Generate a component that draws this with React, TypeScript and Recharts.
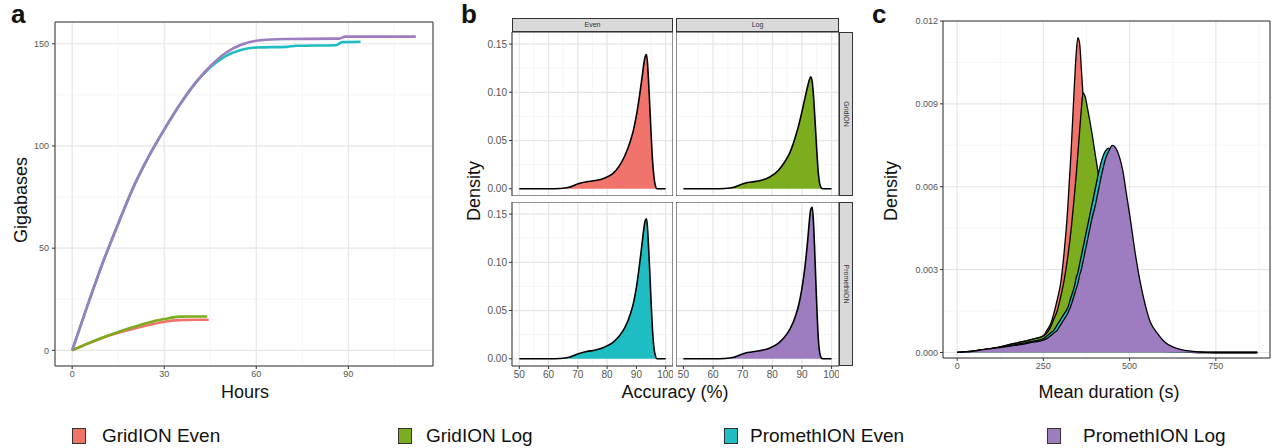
import React from "react"
import { LineChart, Line, AreaChart, Area, XAxis, YAxis, CartesianGrid, ReferenceArea } from "recharts"

const FONT = "'Liberation Sans', Arial, Helvetica, sans-serif"

const seriesNames = ["GridION Even", "GridION Log", "PromethION Even", "PromethION Log"]
const seriesColors = ["#F1746C", "#7BAD1E", "#1EBDC3", "#9D7DC0"]

// panel a: cumulative yield (hours -> gigabases)
const gridEvenHours = [0, 5, 10, 15, 20, 25, 30, 35, 40, 44.5]
const gridEvenGb = [0, 3.2, 6.2, 8.6, 10.6, 12.4, 14, 14.8, 15, 15]
const gridLogHours = [0, 5, 10, 15, 20, 25, 30, 35, 40, 44]
const gridLogGb = [0, 3.3, 6.3, 9, 11.4, 13.6, 15.3, 16.5, 16.6, 16.6]
const promEvenHours = [0, 5, 10, 15, 20, 25, 30, 35, 40, 45, 50, 55, 60, 70, 73, 86, 88, 94]
const promEvenGb = [0, 22, 43, 62, 80, 95, 108, 120, 130.5, 138.5, 144, 147, 148.2, 148.5, 149, 149.3, 150.8, 151]
const promLogHours = [0, 5, 10, 15, 20, 25, 30, 35, 40, 45, 50, 55, 60, 70, 87, 89, 112]
const promLogGb = [0, 22, 43, 62, 80, 95, 108, 120, 130.5, 139, 145.5, 149.5, 151.5, 152.3, 152.5, 153.5, 153.5]

// panel b: accuracy density per facet
const accX = [50, 55, 60, 64, 67, 69, 71, 73, 76, 79, 82, 84, 86, 88, 89, 90, 91, 92, 92.5, 93, 93.5, 94, 94.5, 95, 95.5, 96, 96.5, 97, 98, 100]
const accGridEven = [0, 0, 0, 0.0003, 0.0015, 0.004, 0.006, 0.0072, 0.0085, 0.011, 0.016, 0.023, 0.034, 0.05, 0.061, 0.076, 0.095, 0.117, 0.129, 0.137, 0.139, 0.12, 0.09, 0.058, 0.03, 0.012, 0.003, 0, 0, 0]
const accGridLog = [0, 0, 0, 0.0003, 0.0015, 0.004, 0.006, 0.007, 0.0085, 0.012, 0.019, 0.027, 0.038, 0.056, 0.067, 0.08, 0.094, 0.107, 0.113, 0.116, 0.11, 0.092, 0.066, 0.04, 0.017, 0.005, 0.001, 0, 0, 0]
const accPromEven = [0, 0, 0, 0.0003, 0.0015, 0.004, 0.006, 0.0075, 0.009, 0.012, 0.017, 0.023, 0.032, 0.047, 0.058, 0.074, 0.096, 0.121, 0.134, 0.143, 0.145, 0.125, 0.094, 0.06, 0.03, 0.011, 0.003, 0, 0, 0]
const accPromLog = [0, 0, 0, 0.0003, 0.0015, 0.004, 0.006, 0.007, 0.0085, 0.011, 0.016, 0.022, 0.031, 0.046, 0.057, 0.073, 0.095, 0.125, 0.143, 0.155, 0.157, 0.135, 0.095, 0.055, 0.022, 0.006, 0.001, 0, 0, 0]
const facetCols = ["Even", "Log"]
const facetRows = ["GridION", "PromethION"]

// panel c: mean duration density
const durX = [0, 25, 50, 75, 100, 125, 150, 175, 200, 225, 250, 260, 270, 280, 290, 300, 310, 320, 330, 340, 345, 350, 355, 360, 365, 370, 380, 390, 400, 410, 420, 430, 440, 450, 460, 470, 480, 490, 500, 520, 540, 560, 580, 600, 625, 650, 700, 750, 800, 870]
const durGridEven = [0, 0.00003, 0.00006, 0.0001, 0.00015, 0.0002, 0.00028, 0.00035, 0.00042, 0.0005, 0.0006, 0.0008, 0.001, 0.0014, 0.0019, 0.0025, 0.0036, 0.0051, 0.0072, 0.0097, 0.0108, 0.0114, 0.0112, 0.0103, 0.0093, 0.0083, 0.0065, 0.005, 0.0037, 0.0027, 0.002, 0.0015, 0.0011, 0.0008, 0.0006, 0.00045, 0.00035, 0.00028, 0.00022, 0.00014, 0.0001, 0.00007, 0.00005, 0.00003, 0.00002, 0.00001, 0, 0, 0, 0]
const durGridLog = [0, 0.00003, 0.00006, 0.0001, 0.00015, 0.0002, 0.00028, 0.00035, 0.00042, 0.0005, 0.0006, 0.0007, 0.0009, 0.0012, 0.0015, 0.002, 0.0026, 0.0034, 0.0044, 0.0057, 0.0064, 0.0072, 0.008, 0.0088, 0.0094, 0.0093, 0.0087, 0.008, 0.0072, 0.0064, 0.0055, 0.0046, 0.0037, 0.0029, 0.0022, 0.0016, 0.0012, 0.0009, 0.0007, 0.0004, 0.00022, 0.00012, 0.00007, 0.00004, 0.00002, 0.00001, 0, 0, 0, 0]
const durPromEven = [0, 0.00002, 0.00005, 0.0001, 0.00014, 0.00018, 0.00024, 0.0003, 0.00036, 0.00042, 0.0005, 0.0006, 0.0007, 0.0008, 0.001, 0.0012, 0.0014, 0.0016, 0.002, 0.0024, 0.0027, 0.0029, 0.0032, 0.0035, 0.0038, 0.0041, 0.0047, 0.0053, 0.0059, 0.0065, 0.007, 0.0073, 0.0074, 0.0071, 0.0066, 0.0059, 0.005, 0.0042, 0.0034, 0.0021, 0.0012, 0.0007, 0.0004, 0.0002, 0.0001, 0.00005, 0.00001, 0, 0, 0]
const durPromLog = [0, 0.00002, 0.00005, 0.0001, 0.00014, 0.00018, 0.00022, 0.00027, 0.00032, 0.00038, 0.00045, 0.0005, 0.0006, 0.0007, 0.0008, 0.001, 0.0012, 0.0014, 0.0017, 0.0021, 0.0023, 0.0025, 0.0028, 0.003, 0.0033, 0.0036, 0.0042, 0.0048, 0.0053, 0.0059, 0.0065, 0.007, 0.0073, 0.0075, 0.0074, 0.0071, 0.0066, 0.0058, 0.005, 0.0033, 0.002, 0.0011, 0.0007, 0.0004, 0.0002, 0.0001, 0.00002, 0, 0, 0]

const toXY = (xs: number[], ys: number[]) => xs.map((x, i) => ({ x, y: ys[i] }))

const tickStyle = (size: number) => ({ fontSize: size, fill: "#555", fontFamily: FONT })
const MAJOR = "#e6e6e6"
const MINOR = "#f4f4f4"

function PanelA() {
  const xDom = [-5.6, 117.6]
  const yDom = [-7.65, 160.65]
  const lines = [
    toXY(gridEvenHours, gridEvenGb),
    toXY(gridLogHours, gridLogGb),
    toXY(promEvenHours, promEvenGb),
    toXY(promLogHours, promLogGb),
  ]
  return (
    <LineChart width={440} height={400} margin={{ top: 22, right: 7, bottom: 0, left: 0 }}>
      <CartesianGrid stroke={MINOR} strokeWidth={0.8} verticalValues={[15, 45, 75, 105]} horizontalValues={[25, 75, 125]} />
      <CartesianGrid stroke={MAJOR} strokeWidth={1.2} />
      <XAxis type="number" dataKey="x" domain={xDom} ticks={[0, 30, 60, 90]} height={34} tickSize={3} tickMargin={2}
        axisLine={false} tickLine={{ stroke: "#333" }} tick={tickStyle(9)} />
      <YAxis type="number" domain={yDom} ticks={[0, 50, 100, 150]} width={55} tickSize={3} tickMargin={3}
        axisLine={false} tickLine={{ stroke: "#333" }} tick={tickStyle(9)} />
      <ReferenceArea x1={xDom[0]} x2={xDom[1]} y1={yDom[0]} y2={yDom[1]} fill="none" stroke="#333" strokeWidth={1} ifOverflow="visible" />
      {lines.map((d, i) => (
        <Line key={seriesNames[i]} data={d} dataKey="y" type="monotone" stroke={seriesColors[i]} strokeWidth={2.6}
          dot={false} isAnimationActive={false} />
      ))}
    </LineChart>
  )
}

function Facet(props: { values: number[]; color: string; showX: boolean; showY: boolean; plotW: number }) {
  const { values, color, showX, showY, plotW } = props
  const xDom = [47.5, 102.5]
  const yDom = [-0.0075, 0.1625]
  const yW = showY ? 34 : 0
  const xH = showX ? 20 : 0
  return (
    <AreaChart width={plotW + yW} height={164 + xH} data={toXY(accX, values)} margin={{ top: 0, right: 0, bottom: 0, left: 0 }}>
      <CartesianGrid stroke={MINOR} strokeWidth={0.8} verticalValues={[55, 65, 75, 85, 95]} horizontalValues={[0.025, 0.075, 0.125]} />
      <CartesianGrid stroke={MAJOR} strokeWidth={1.2} />
      <XAxis type="number" dataKey="x" domain={xDom} ticks={[50, 60, 70, 80, 90, 100]} hide={!showX} height={20}
        tickSize={3} tickMargin={2} axisLine={false} tickLine={{ stroke: "#333" }} tick={tickStyle(10)} />
      <YAxis type="number" domain={yDom} ticks={[0, 0.05, 0.1, 0.15]} hide={!showY} width={34} tickSize={3} tickMargin={2}
        axisLine={false} tickLine={{ stroke: "#333" }} tick={tickStyle(10)} tickFormatter={(v: number) => v.toFixed(2)} />
      <ReferenceArea x1={xDom[0]} x2={xDom[1]} y1={yDom[0]} y2={yDom[1]} fill="none" stroke="#333" strokeWidth={1} ifOverflow="visible" />
      <Area type="monotone" dataKey="y" fill={color} fillOpacity={1} stroke="#000" strokeWidth={1.6} isAnimationActive={false} />
    </AreaChart>
  )
}

function PanelC() {
  const xDom = [-41, 907]
  const yDom = [-0.0002, 0.012]
  const data = durX.map((x, i) => ({ x, ge: durGridEven[i], gl: durGridLog[i], pe: durPromEven[i], pl: durPromLog[i] }))
  const keys = ["ge", "gl", "pe", "pl"]
  return (
    <AreaChart width={372} height={388} data={data} margin={{ top: 21, right: 2, bottom: 0, left: 0 }}>
      <CartesianGrid stroke={MINOR} strokeWidth={0.8} verticalValues={[125, 375, 625, 875]} horizontalValues={[0.0015, 0.0045, 0.0075, 0.0105]} />
      <CartesianGrid stroke={MAJOR} strokeWidth={1.2} />
      <XAxis type="number" dataKey="x" domain={xDom} ticks={[0, 250, 500, 750]} height={30} tickSize={3} tickMargin={2}
        axisLine={false} tickLine={{ stroke: "#333" }} tick={tickStyle(9)} />
      <YAxis type="number" domain={yDom} ticks={[0, 0.003, 0.006, 0.009, 0.012]} width={43} tickSize={3} tickMargin={2}
        axisLine={false} tickLine={{ stroke: "#333" }} tick={tickStyle(9)} tickFormatter={(v: number) => v.toFixed(3)} />
      <ReferenceArea x1={xDom[0]} x2={xDom[1]} y1={yDom[0]} y2={yDom[1]} fill="none" stroke="#333" strokeWidth={1} ifOverflow="visible" />
      {keys.map((k, i) => (
        <Area key={k} type="monotone" dataKey={k} fill={seriesColors[i]} fillOpacity={1} stroke="#000" strokeWidth={1.3}
          isAnimationActive={false} />
      ))}
    </AreaChart>
  )
}

const abs = (left: number, top: number): React.CSSProperties => ({ position: "absolute", left, top })

function Title({ text, cx, cy, rotate }: { text: string; cx: number; cy: number; rotate?: boolean }) {
  return (
    <div style={{
      position: "absolute", left: cx - 100, top: cy - 9, width: 200, height: 18, lineHeight: "18px",
      textAlign: "center", fontSize: 18, color: "#111", fontFamily: FONT,
      transform: rotate ? "rotate(-90deg)" : undefined,
    }}>{text}</div>
  )
}

function Letter({ text, left }: { text: string; left: number }) {
  return <div style={{ ...abs(left, 1), fontSize: 26, fontWeight: "bold", lineHeight: "26px", fontFamily: FONT, color: "#111" }}>{text}</div>
}

export default function App() {
  const facetValues = [[accGridEven, accGridLog], [accPromEven, accPromLog]]
  const colLeft = [478, 676]
  const plotLeft = [512, 676]
  const plotW = [161, 163]
  const rowTop = [32, 202]
  const legendSwatch = [72, 398, 724, 1047]
  const legendText = [102, 426, 750, 1083]
  return (
    <div style={{ position: "absolute", left: 0, top: 0, width: 1274, height: 448, background: "#fff", fontFamily: FONT, overflow: "hidden" }}>
      <Letter text="a" left={11} />
      <Letter text="b" left={461} />
      <Letter text="c" left={872} />

      <div style={abs(0, 0)}><PanelA /></div>
      <Title text="Gigabases" cx={21} cy={200} rotate />
      <Title text="Hours" cx={245} cy={392} />

      {facetRows.map((row, r) =>
        facetCols.map((col, c) => (
          <div key={row + col} style={abs(colLeft[c], rowTop[r])}>
            <Facet values={facetValues[r][c]} color={seriesColors[r * 2 + c]} showX={r === 1} showY={c === 0} plotW={plotW[c]} />
          </div>
        ))
      )}
      {facetCols.map((col, c) => (
        <div key={col} style={{
          ...abs(plotLeft[c], 18), width: plotW[c] - 2, height: 12, border: "1px solid #333", background: "#d9d9d9",
          fontSize: 7, lineHeight: "12px", textAlign: "center", color: "#333",
        }}>{col}</div>
      ))}
      {facetRows.map((row, r) => (
        <div key={row} style={{
          ...abs(839, rowTop[r]), width: 12, height: 162, border: "1px solid #333", background: "#d9d9d9",
        }}>
          <div style={{
            position: "absolute", left: -75, top: 75, width: 162, height: 12, lineHeight: "12px", fontSize: 7,
            textAlign: "center", color: "#333", transform: "rotate(90deg)",
          }}>{row}</div>
        </div>
      ))}
      <Title text="Density" cx={474} cy={191} rotate />
      <Title text="Accuracy (%)" cx={675} cy={392} />

      <div style={abs(900, 0)}><PanelC /></div>
      <Title text="Density" cx={891} cy={191} rotate />
      <Title text="Mean duration (s)" cx={1109} cy={392} />

      {seriesNames.map((n, i) => (
        <React.Fragment key={n}>
          <div style={{ ...abs(legendSwatch[i], 428), width: 12, height: 14, background: seriesColors[i], border: "1px solid #333" }} />
          <div style={{ ...abs(legendText[i], 426), fontSize: 19, lineHeight: "19px", color: "#111", whiteSpace: "nowrap" }}>{n}</div>
        </React.Fragment>
      ))}
    </div>
  )
}
